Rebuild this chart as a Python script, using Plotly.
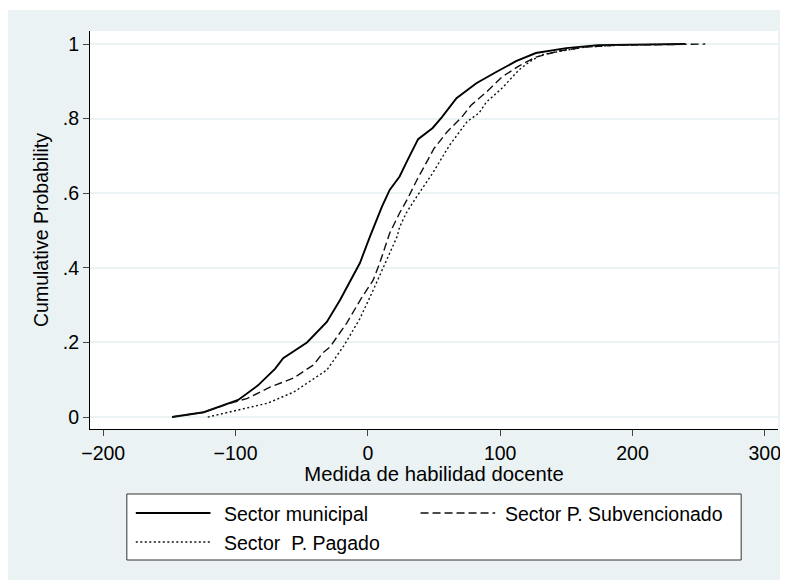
import plotly.graph_objects as go

# ---- data ----
mun_x = [-148, -124, -98, -83, -70, -64, -46, -31, -21, -6, 1.5, 10.5, 16.5, 24, 30, 38, 49, 56, 67, 82, 97, 112, 127, 150, 174, 240]
mun_y = [0, 0.013, 0.046, 0.085, 0.13, 0.158, 0.20, 0.255, 0.314, 0.413, 0.483, 0.563, 0.609, 0.645, 0.689, 0.745, 0.775, 0.804, 0.855, 0.895, 0.925, 0.954, 0.976, 0.989, 0.997, 1.0]

sub_x = [-148, -124, -106, -91, -74, -56, -41, -34, -28.6, -21, -16, -5, 4, 9, 16.5, 24, 30, 37, 50, 60, 71, 78, 89.5, 101.5, 114, 127, 144, 164, 189, 255]
sub_y = [0, 0.013, 0.035, 0.05, 0.08, 0.105, 0.14, 0.172, 0.188, 0.225, 0.252, 0.318, 0.367, 0.413, 0.493, 0.547, 0.585, 0.635, 0.72, 0.765, 0.804, 0.836, 0.871, 0.912, 0.941, 0.965, 0.981, 0.992, 0.997, 1.0]

pag_x = [-121, -106, -76, -56, -31, -18, -6, 4, 13.5, 22, 24, 29, 36, 49, 61.6, 75, 84, 89.5, 101.5, 114, 122, 131, 146, 164, 189, 234]
pag_y = [0, 0.013, 0.037, 0.067, 0.126, 0.192, 0.264, 0.34, 0.417, 0.483, 0.509, 0.547, 0.586, 0.654, 0.728, 0.792, 0.815, 0.844, 0.882, 0.93, 0.952, 0.971, 0.981, 0.992, 0.997, 1.0]

names = ["Sector municipal", "Sector P. Subvencionado", "Sector\u00a0 P. Pagado"]

x_ticks = [-200, -100, 0, 100, 200, 300]
y_ticks = [0, 0.2, 0.4, 0.6, 0.8, 1]
y_ticktext = ["0", ".2", ".4", ".6", ".8", "1"]

x_title = "Medida de habilidad docente"
y_title = "Cumulative Probability"

# ---- style ----
BG = "#EAF2F3"
FONT = "Liberation Sans, Arial, sans-serif"
FS = 19.5
FT = 20.3
styles = [
    dict(color="#000000", width=1.9, dash="solid"),
    dict(color="#111111", width=1.4, dash="8px,4px"),
    dict(color="#111111", width=1.4, dash="2px,2.5px"),
]

fig = go.Figure()
for xs, ys, nm, st in zip([mun_x, sub_x, pag_x], [mun_y, sub_y, pag_y], names, styles):
    fig.add_trace(go.Scatter(x=xs, y=ys, mode="lines", name=nm, line=st,
                             showlegend=False, hoverinfo="x+y+name"))

# page body margin is 8px; figure fills the rest of the window
OX, OY = 8, 8
W, H = 780, 572
L, T = 90 - OX, 31 - OY
R = W - (781 - OX)
B = H - (429 - OY)
pw, ph = W - L - R, H - T - B

def px(xs):  # screen x -> paper
    return (xs - OX - L) / pw

def py(ys):  # screen y -> paper
    return (H - B - (ys - OY)) / ph

shapes = []
# thin white strip at the very top
shapes.append(dict(type="rect", xref="paper", yref="paper", x0=px(0), x1=px(800),
                   y0=py(10), y1=py(0), fillcolor="white", line=dict(width=0), layer="above"))
# legend box
shapes.append(dict(type="rect", xref="paper", yref="paper", x0=px(127), x1=px(744),
                   y0=py(560), y1=py(494), fillcolor="white",
                   line=dict(color="#333333", width=1), layer="above"))
rows = [513, 542]
keys = [(136, 211, 223, rows[0]), (422, 497, 505, rows[0]), (136, 211, 223, rows[1])]
annotations = []
for (a, b, t, r), nm, st in zip(keys, names, styles):
    shapes.append(dict(type="line", xref="paper", yref="paper", x0=px(a), x1=px(b),
                       y0=py(r), y1=py(r), line=st, layer="above"))
    annotations.append(dict(xref="paper", yref="paper", x=px(t), y=py(r + 1), text=nm,
                            showarrow=False, xanchor="left", yanchor="middle",
                            font=dict(family=FONT, size=FS, color="#000")))

fig.update_layout(
    width=W, height=H,
    margin=dict(l=L, r=R, t=T, b=B),
    paper_bgcolor=BG, plot_bgcolor="white",
    font=dict(family=FONT, size=FS, color="#000"),
    shapes=shapes, annotations=annotations,
    showlegend=False,
)
fig.update_xaxes(range=[-210, 310], tickvals=x_ticks, showgrid=False, zeroline=False,
                 showline=True, linecolor="#000", linewidth=1.2,
                 ticks="outside", ticklen=6, tickcolor="#444", tickwidth=1,
                 tickfont=dict(family=FONT, size=FS, color="#000"),
                 title=dict(text=x_title, standoff=2, font=dict(family=FONT, size=FT, color="#000")))
fig.update_yaxes(range=[-0.032, 1.035], tickvals=y_ticks, ticktext=y_ticktext,
                 showgrid=True, gridcolor=BG, gridwidth=1.5, zeroline=False,
                 showline=True, linecolor="#000", linewidth=1.2,
                 ticks="outside", ticklen=6, tickcolor="#444", tickwidth=1,
                 tickfont=dict(family=FONT, size=FS, color="#000"),
                 title=dict(text=y_title, standoff=8, font=dict(family=FONT, size=FS, color="#000")))

fig.write_html("out.html")
